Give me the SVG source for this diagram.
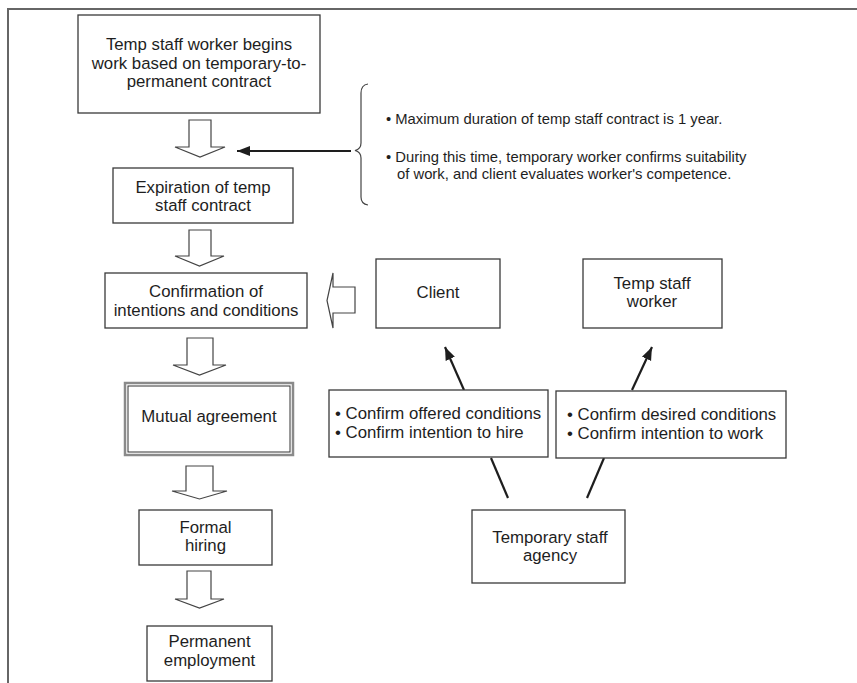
<svg xmlns="http://www.w3.org/2000/svg" width="857" height="683" viewBox="0 0 857 683">
<style>
  .box { fill: #ffffff; stroke: #3a3a3a; stroke-width: 1.3; }
  .t { font-family: "Liberation Sans", Arial, Helvetica, sans-serif; font-size: 16.8px; fill: #1e1e1e; }
  .c { text-anchor: middle; }
  .bt { font-family: "Liberation Sans", Arial, Helvetica, sans-serif; font-size: 14.8px; fill: #1e1e1e; }
  .hollow { fill: #ffffff; stroke: #444444; stroke-width: 1.2; stroke-linejoin: miter; }
  .line { fill: none; stroke: #1e1e1e; stroke-width: 2.2; }
  .frame { fill: none; stroke: #666666; stroke-width: 2; }
</style>
<defs>
  <marker id="ah" markerUnits="userSpaceOnUse" markerWidth="14" markerHeight="12" viewBox="0 0 14 12" refX="13" refY="6" orient="auto">
    <path d="M0,1 L13,6 L0,11 Z" fill="#1e1e1e"/>
  </marker>
</defs>
<rect width="857" height="683" fill="#ffffff"/>
<path class="frame" d="M8,683 L8,9 L857,9"/>

<g id="connectors">
  <polygon class="hollow" points="189,120 211,120 211,147 225,147 200,157 175,147 189,147"/>
  <polygon class="hollow" points="189,230 211,230 211,256 224,256 199.5,266 175,256 189,256"/>
  <polygon class="hollow" points="187,338 213,338 213,365 226,365 199.5,375 173,365 187,365"/>
  <polygon class="hollow" points="186,466 213,466 213,491 227,491 199.5,499 172,491 186,491"/>
  <polygon class="hollow" points="187,571 211,571 211,599 224,599 199.5,608 175,599 187,599"/>
  <polygon class="hollow" points="355,287 355,313 333,313 333,328 327,300.5 333,273 333,287"/>
  <line class="line" x1="351" y1="151" x2="237" y2="151" marker-end="url(#ah)"/>
  <line class="line" x1="464" y1="390" x2="445" y2="347" marker-end="url(#ah)"/>
  <line class="line" x1="632" y1="390" x2="652" y2="347" marker-end="url(#ah)"/>
  <line class="line" x1="491" y1="458" x2="508" y2="498"/>
  <line class="line" x1="604" y1="458" x2="587" y2="498"/>
</g>

<g id="start">
  <rect class="box" x="78" y="15" width="242" height="98"/>
  <text class="t c" x="199" y="50">Temp staff worker begins</text>
  <text class="t c" x="199" y="68.5">work based on temporary-to-</text>
  <text class="t c" x="199" y="87">permanent contract</text>
</g>

<g id="note">
  <path d="M368,84 Q361,85 361,93 L361,143 Q361,149 355,150.5 Q361,152 361,158 L361,197 Q361,204 368,205" fill="none" stroke="#444444" stroke-width="1.2"/>
  <text class="bt" x="386" y="124">• Maximum duration of temp staff contract is 1 year.</text>
  <text class="bt" x="386" y="162">• During this time, temporary worker confirms suitability</text>
  <text class="bt" x="397" y="179">of work, and client evaluates worker's competence.</text>
</g>

<g id="expiration">
  <rect class="box" x="113" y="168" width="180" height="55"/>
  <text class="t c" x="203" y="193">Expiration of temp</text>
  <text class="t c" x="203" y="211">staff contract</text>
</g>

<g id="confirmation">
  <rect class="box" x="105" y="273" width="202" height="55"/>
  <text class="t c" x="206" y="297">Confirmation of</text>
  <text class="t c" x="206" y="316">intentions and conditions</text>
</g>

<g id="mutual">
  <rect x="125" y="383" width="168" height="72" fill="#ffffff" stroke="#8a8a8a" stroke-width="2.5"/>
  <rect x="128" y="386" width="162" height="66" fill="none" stroke="#333333" stroke-width="1"/>
  <text class="t c" x="209" y="422">Mutual agreement</text>
</g>

<g id="formal">
  <rect class="box" x="139" y="510" width="133" height="55"/>
  <text class="t c" x="205.5" y="533">Formal</text>
  <text class="t c" x="205.5" y="551">hiring</text>
</g>

<g id="permanent">
  <rect class="box" x="147" y="626" width="125" height="55"/>
  <text class="t c" x="209.5" y="647">Permanent</text>
  <text class="t c" x="209.5" y="665.5">employment</text>
</g>

<g id="client">
  <rect class="box" x="376" y="259" width="124" height="69"/>
  <text class="t c" x="438" y="298">Client</text>
</g>

<g id="worker">
  <rect class="box" x="583" y="259" width="139" height="69"/>
  <text class="t c" x="652" y="289">Temp staff</text>
  <text class="t c" x="652" y="307">worker</text>
</g>

<g id="client-conditions">
  <rect class="box" x="329" y="390" width="219" height="67"/>
  <text class="t" x="335" y="419">• Confirm offered conditions</text>
  <text class="t" x="335" y="438">• Confirm intention to hire</text>
</g>

<g id="worker-conditions">
  <rect class="box" x="556" y="391" width="230" height="67"/>
  <text class="t" x="567" y="420">• Confirm desired conditions</text>
  <text class="t" x="567" y="439">• Confirm intention to work</text>
</g>

<g id="agency">
  <rect class="box" x="472" y="510" width="153" height="73"/>
  <text class="t c" x="550" y="543">Temporary staff</text>
  <text class="t c" x="550" y="561">agency</text>
</g>
</svg>
